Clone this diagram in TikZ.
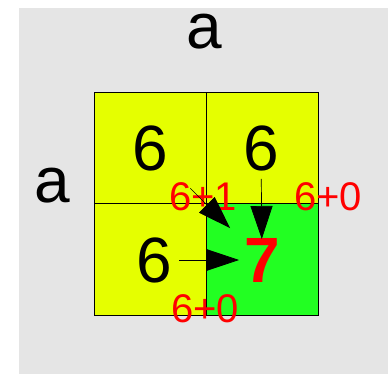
\documentclass[tikz,border=0pt]{standalone}
\usepackage{fontspec}
\setmainfont{Liberation Sans}
\usetikzlibrary{arrows.meta}
\definecolor{bg}{RGB}{229,229,229}
\definecolor{cellyellow}{RGB}{229,255,0}
\definecolor{cellgreen}{RGB}{34,255,34}
\begin{document}
\begin{tikzpicture}[x=1pt,y=-1pt,
  cell/.style={draw=black, line width=0.8pt, minimum width=112pt, minimum height=111.5pt, inner sep=0pt, outer sep=0pt},
  big/.style={font=\fontsize{64}{64}\selectfont, inner sep=0pt},
  lbl/.style={text=red, font=\fontsize{40}{40}\selectfont, inner sep=0pt},
  arr/.style={-{Triangle[length=33pt,width=22pt]}, line width=0.7pt}]
\useasboundingbox (0,0) rectangle (388,374);
\fill[bg] (19,8) rectangle (388,374);
% cells
\node[cell, fill=cellyellow] (c11) at (150,148) {};
\node[cell, fill=cellyellow] (c12) at (262,148) {};
\node[cell, fill=cellyellow] (c21) at (150,259.5) {};
\node[cell, fill=cellgreen]  (c22) at (262,259.5) {};
% axis labels
\node[big] (topa) at (204,31.5) {a};
\node[big] (lefta) at (52.5,185.5) {a};
% values
\node[big] (tl) at (150,148) {6};
\node[big] (tr) at (261,148) {6};
\node[big] (bl) at (154,260) {6};
\node[big, text=red, font=\fontsize{64}{64}\selectfont\bfseries] (seven) at (262,260) {7};
% red labels
\node[lbl] (ldiag) at (203,197) {6+1};
\node[lbl] (lup) at (328,197) {6+0};
\node[lbl] (lleft) at (205,309) {6+0};
% arrows
\draw[arr, shorten <=57pt, shorten >=45pt] (tl.center) -- (seven.center);
\draw[arr, shorten <=31pt, shorten >=21pt] (tr.center) -- (seven.center);
\draw[arr, shorten <=25pt, shorten >=23pt] (bl.center) -- (seven.center);
\end{tikzpicture}
\end{document}
